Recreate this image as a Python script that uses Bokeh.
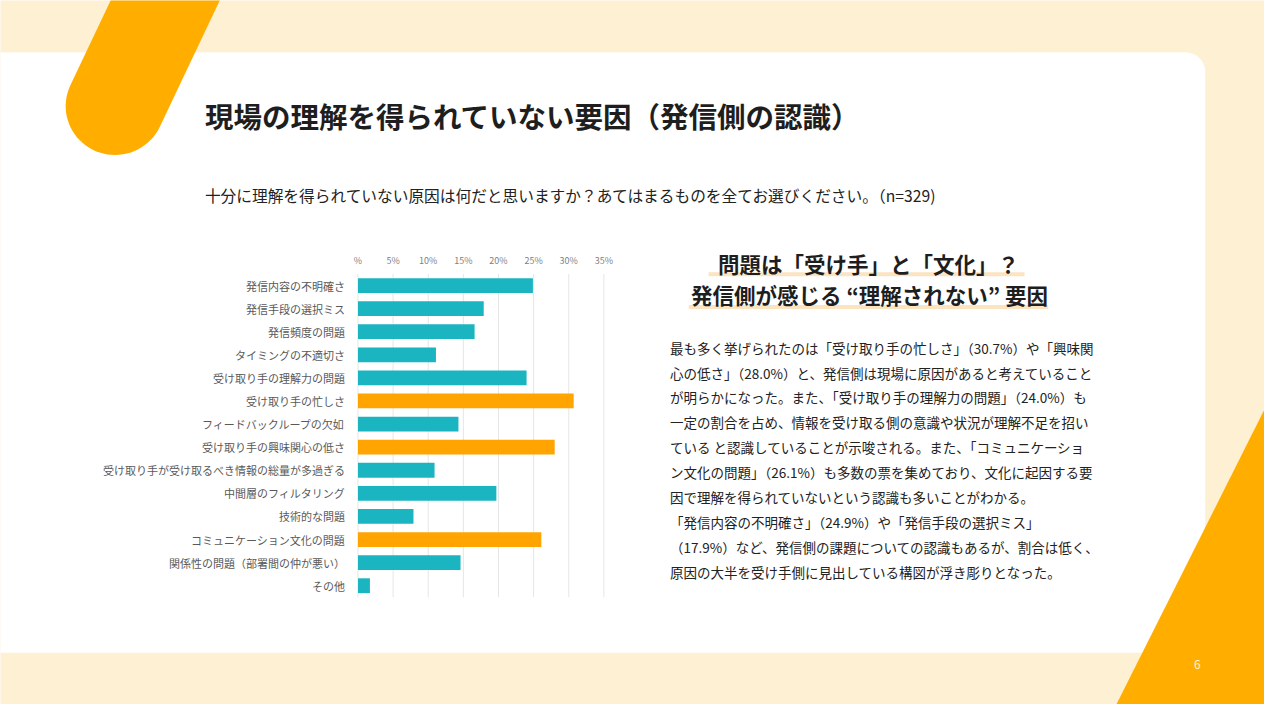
import numpy as np
from bokeh.plotting import figure
from bokeh.models import Range1d, LinearAxis, FixedTicker, ColumnDataSource
from bokeh.core.properties import value
from bokeh.embed import file_html
from bokeh.resources import INLINE

# ---------------- data ----------------
categories = [
    "発信内容の不明確さ",
    "発信手段の選択ミス",
    "発信頻度の問題",
    "タイミングの不適切さ",
    "受け取り手の理解力の問題",
    "受け取り手の忙しさ",
    "フィードバックループの欠如",
    "受け取り手の興味関心の低さ",
    "受け取り手が受け取るべき情報の総量が多過ぎる",
    "中間層のフィルタリング",
    "技術的な問題",
    "コミュニケーション文化の問題",
    "関係性の問題（部署間の仲が悪い）",
    "その他",
]
values = [24.9, 17.9, 16.6, 11.1, 24.0, 30.7, 14.3, 28.0, 10.9, 19.7, 7.9, 26.1, 14.6, 1.7]
highlighted = ["受け取り手の忙しさ", "受け取り手の興味関心の低さ", "コミュニケーション文化の問題"]
pct_ticks = [0, 5, 10, 15, 20, 25, 30, 35]
pct_labels = ["%", "5%", "10%", "15%", "20%", "25%", "30%", "35%"]

title_text = "現場の理解を得られていない要因（発信側の認識）"
question_text = "十分に理解を得られていない原因は何だと思いますか？あてはまるものを全てお選びください。（n=329)"
heading_lines = ["問題は「受け手」と「文化」？", "発信側が感じる “理解されない” 要因"]
body_lines = [
    "最も多く挙げられたのは「受け取り手の忙しさ」（30.7%）や「興味関",
    "心の低さ」（28.0%）と、発信側は現場に原因があると考えていること",
    "が明らかになった。また、「受け取り手の理解力の問題」（24.0%）も",
    "一定の割合を占め、情報を受け取る側の意識や状況が理解不足を招い",
    "ている と認識していることが示唆される。また、「コミュニケーショ",
    "ン文化の問題」（26.1%）も多数の票を集めており、文化に起因する要",
    "因で理解を得られていないという認識も多いことがわかる。",
    "「発信内容の不明確さ」（24.9%）や「発信手段の選択ミス」",
    "（17.9%）など、発信側の課題についての認識もあるが、割合は低く、",
    "原因の大半を受け手側に見出している構図が浮き彫りとなった。",
]
page_number = "6"

# ---------------- styles / layout ----------------
FONT = "Noto Sans CJK JP"
BEIGE = "#FEF0D3"
ORANGE_DECO = "#FFAE00"
TEAL = "#1BB5C1"
ORANGE_BAR = "#FFA400"

W, H = 1264, 704
SW, SH = 1280, 720  # slide design coordinates (scaled into the canvas)

# chart anchors (slide coordinates)
X0_PX, X35_PX = 362.0, 611.0
K = (X35_PX - X0_PX) / 35.0
ROW0_PX, ROW_STEP = 291.5, 23.615

p = figure(width=W, height=H, output_backend="svg", toolbar_location=None,
           x_axis_type=None, y_axis_type=None, title=None, min_border=0,
           x_range=Range1d(0, SW), y_range=Range1d(SH, 0))
p.outline_line_color = None
p.background_fill_color = BEIGE
p.border_fill_color = BEIGE
p.xgrid.visible = False
p.ygrid.visible = False

p.extra_x_ranges = {"pct": Range1d((0 - X0_PX) / K, (SW - X0_PX) / K)}
p.extra_y_ranges = {"cat": Range1d((SH - ROW0_PX) / ROW_STEP, (0 - ROW0_PX) / ROW_STEP)}

# ---------------- decorations ----------------
# white panel with rounded top-right corner
a = np.linspace(0, np.pi / 2, 20)
px = [-20, 1200] + list(1200 + 20 * np.sin(a)) + [1220, -20]
py = [53, 53] + list(73 - 20 * np.cos(a)) + [667, 667]
p.patch(px, py, fill_color="white", line_color=None)

# orange slanted stroke top-left
C = np.array([116.0, 108.0])
r = 50.0
d = np.array([-0.47, 1.0]); d /= np.linalg.norm(d)
n = np.array([d[1], -d[0]])
t = np.linspace(0, np.pi, 40)
arc = [C + r * (np.cos(tt) * n + np.sin(tt) * d) for tt in t]
ext = 160.0
pts = [arc[0] - ext * d] + arc + [arc[-1] - ext * d]
p.patch([q[0] for q in pts], [q[1] for q in pts], fill_color=ORANGE_DECO, line_color=None)

# orange triangle bottom-right
p.patch([1294, 1125, 1300, 1300], [390, 730, 730, 390], fill_color=ORANGE_DECO, line_color=None)

# heading underline highlights
p.rect(x=[877, 879], y=[280, 313.5], width=[320, 364], height=[4, 4],
       fill_color="#FBDDB2", line_color=None, fill_alpha=0.8)

# ---------------- texts ----------------
p.text(x=[207], y=[118], text=[title_text], text_font=value(FONT), text_font_style="bold",
       text_font_size="28.5px", text_color="#1E1E1E", text_baseline="middle", text_align="left")
p.text(x=[207], y=[199], text=[question_text], text_font=value(FONT),
       text_font_size="15.7px", text_color="#222222", text_baseline="middle", text_align="left")
p.text(x=[879, 880], y=[269, 301], text=heading_lines, text_font=value(FONT), text_font_style="bold",
       text_font_size="21.5px", text_color="#1E1E1E", text_baseline="middle", text_align="center")
body_y = [355 + 25.5 * i for i in range(len(body_lines))]
p.text(x=[678] * len(body_lines), y=body_y, text=body_lines, text_font=value(FONT),
       text_font_size="13.5px", text_color="#222222", text_baseline="middle", text_align="left")
p.text(x=[1212], y=[679], text=[page_number], text_font=value(FONT),
       text_font_size="12px", text_color="#FFF3D8", text_baseline="middle", text_align="center")

# ---------------- bar chart ----------------
rows = list(range(len(categories)))
colors = [ORANGE_BAR if c in highlighted else TEAL for c in categories]
src = ColumnDataSource(dict(row=rows, val=values, color=colors, cat=categories))

# vertical gridlines
p.segment(x0=pct_ticks, x1=pct_ticks, y0=[-0.5] * len(pct_ticks), y1=[len(categories) - 0.5] * len(pct_ticks),
          line_color="#E6E6E6", line_width=1, x_range_name="pct", y_range_name="cat")

p.hbar(y="row", left=0, right="val", height=0.64, fill_color="color", line_color=None,
       source=src, x_range_name="pct", y_range_name="cat")

xaxis = LinearAxis(x_range_name="pct", y_range_name="cat", fixed_location=-0.5,
                   ticker=FixedTicker(ticks=pct_ticks),
                   major_label_overrides={tk: lb for tk, lb in zip(pct_ticks, pct_labels)})
xaxis.axis_line_color = None
xaxis.major_tick_line_color = None
xaxis.minor_tick_line_color = None
xaxis.major_label_standoff = 1
xaxis.major_label_text_font = FONT
xaxis.major_label_text_font_size = "9px"
xaxis.major_label_text_color = "#7F7F7F"
p.add_layout(xaxis, "above")

yaxis = LinearAxis(x_range_name="pct", y_range_name="cat", fixed_location=0,
                   ticker=FixedTicker(ticks=rows),
                   major_label_overrides={i: c for i, c in zip(rows, categories)})
yaxis.axis_line_color = None
yaxis.major_tick_line_color = None
yaxis.minor_tick_line_color = None
yaxis.major_label_standoff = 7
yaxis.major_label_text_font = FONT
yaxis.major_label_text_font_size = "11px"
yaxis.major_label_text_color = "#595959"
p.add_layout(yaxis, "left")

open("out.html", "w").write(file_html(p, INLINE))
